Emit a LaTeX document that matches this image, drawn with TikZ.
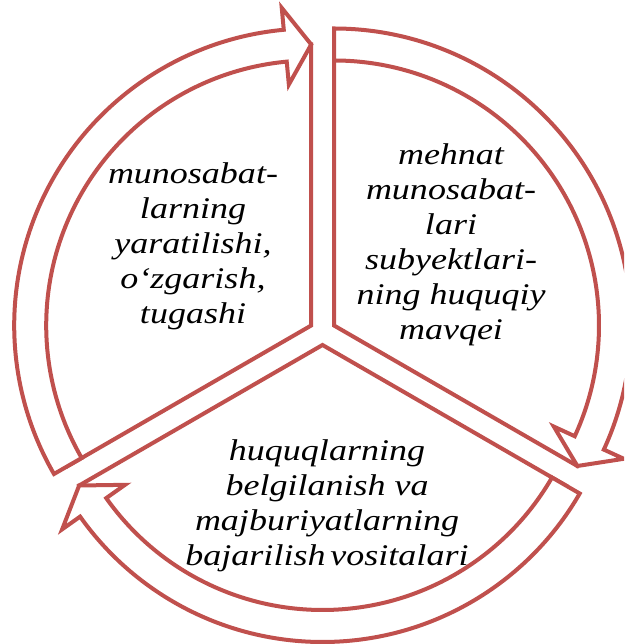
\documentclass[tikz,border=0pt]{standalone}
\usepackage{fontspec}
\usepackage{tikz}
\newfontfamily\segfont{Liberation Serif Italic}[FakeStretch=1.2]
\definecolor{segred}{RGB}{192,80,77}

\begin{document}
\begin{tikzpicture}[
    x=1pt, y=1pt,
    seg/.style={draw=segred, line width=4pt, fill=white},
    lbl/.style={align=center, font=\segfont\fontsize{30}{35}\selectfont}
]
\clip (0,0) rectangle (624,644);

\foreach \cx/\cy/\a/\b [evaluate=\b as \h using \b+5.3] in
        {311.2/318.5/210/90, 334/318.5/90/-30, 322.5/299/-30/-150}{
  \begin{scope}[shift={(\cx,\cy)}]
    \draw[seg] (0,0) -- (\b:281) arc[start angle=\b, end angle=\a, radius=281] -- cycle;
    \draw[seg] (\a:297) arc[start angle=\a, end angle=\h, radius=297]
        -- (\h:319) -- (\b:281) -- (\h:242) -- (\h:265)
        arc[start angle=\h, end angle=\a, radius=265] -- cycle;
  \end{scope}
}

\node[lbl] (create) at (193,397.5) {munosabat-\\larning\\yaratilishi,\\o‘zgarish,\\tugashi};
\node[lbl] (status) at (451,399.5) {mehnat\\munosabat-\\lari\\subyektlari-\\ning huquqiy\\mavqei};
\node[lbl] (means)  at (327,138.5) {huquqlarning\\belgilanish va\\majburiyatlarning\\bajarilish\,vositalari};
\end{tikzpicture}
\end{document}
